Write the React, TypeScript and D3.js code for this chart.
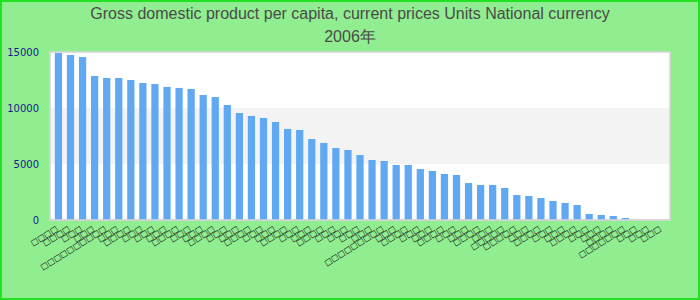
import React from "react";
import * as d3 from "d3";

const titleLine1 = "Gross domestic product per capita, current prices Units National currency";
const titleLine2 = "2006年";

// Category labels are unreadable in the reference (rendered as missing-glyph boxes)
const categories: string[] = [
  "□□□□", "□□□□", "□□□", "□□□", "□□□□□□□□□□", "□□□", "□□□□", "□□□", "□□□", "□□□",
  "□□□□", "□□□", "□□□", "□□□□", "□□□", "□□□", "□□□□", "□□□", "□□□", "□□□□",
  "□□□", "□□□", "□□□□", "□□□", "□□□", "□□□", "□□□", "□□□□□□□□□", "□□□", "□□□□",
  "□□□", "□□□", "□□□□", "□□□", "□□□", "□□□□", "□□□", "□□□□□", "□□□□□", "□□□",
  "□□□□", "□□□", "□□□", "□□□□", "□□□", "□□□", "□□□□", "□□□□□□□", "□□□", "□□□",
  "□□□",
];

const values: number[] = [
  14910, 14730, 14550, 12860, 12680, 12680, 12500, 12230, 12140, 11880,
  11790, 11700, 11160, 10980, 10270, 9550, 9290, 9110, 8750, 8130,
  8040, 7230, 6880, 6430, 6250, 5800, 5360, 5270, 4910, 4910,
  4550, 4380, 4110, 4020, 3300, 3130, 3130, 2860, 2230, 2140,
  1960, 1700, 1520, 1340, 540, 450, 360, 180, 0, 0,
  0,
];

const yTicks: number[] = [0, 5000, 10000, 15000];
const bands: [number, number][] = [[5000, 10000]];

export default function App() {
  const W = 700, H = 300;
  const left = 50, right = 670, top = 52, bottom = 220;

  const x = d3.scaleBand<number>()
    .domain(d3.range(categories.length))
    .range([left, right])
    .paddingInner(0.4)
    .paddingOuter(0.4);
  const y = d3.scaleLinear().domain([0, 15000]).range([bottom, top]);

  return (
    <svg width={W} height={H} style={{ position: "fixed", left: 0, top: 0 }}>
      <rect x={1} y={1} width={W - 2} height={H - 2} fill="#90ee90" stroke="#22e022" strokeWidth={2} />
      <text x={350} y={18.5} textAnchor="middle" fontFamily="'Liberation Sans', Arial, sans-serif" fontSize={16} fill="#4a4a4a">
        {titleLine1}
      </text>
      <text x={350} y={42} textAnchor="middle" fontFamily="'Liberation Sans', Arial, sans-serif" fontSize={16} fill="#4a4a4a">
        {titleLine2}
      </text>

      <rect x={left} y={top} width={right - left} height={bottom - top} fill="#ffffff" stroke="#d4d4d4" strokeWidth={1.5} />
      {bands.map(([a, b], i) => (
        <rect key={i} x={left + 1} y={y(b)} width={right - left - 2} height={y(a) - y(b)} fill="#f3f3f3" />
      ))}

      {yTicks.map((t) => (
        <text key={t} x={39} y={y(t)} dy="0.35em" textAnchor="end" fontFamily="'DejaVu Sans', sans-serif" fontSize={10} fill="#1a1a8a">
          {t}
        </text>
      ))}

      {values.map((v, i) => (
        v > 0 ? (
          <rect key={i} x={x(i)!} y={y(v)} width={x.bandwidth()} height={y(0) - y(v)} fill="#60a9f2" />
        ) : null
      ))}
      <line x1={left} x2={right} y1={bottom} y2={bottom} stroke="#d4d4d4" strokeWidth={1.5} />

      {categories.map((c, i) => {
        const cx = x(i)! + x.bandwidth() / 2;
        return (
          <text key={i} transform={`translate(${cx},${230}) rotate(-32)`} textAnchor="end"
            fontFamily="'DejaVu Sans', sans-serif" fontSize={8} fill="#111">
            {c}
          </text>
        );
      })}
    </svg>
  );
}
